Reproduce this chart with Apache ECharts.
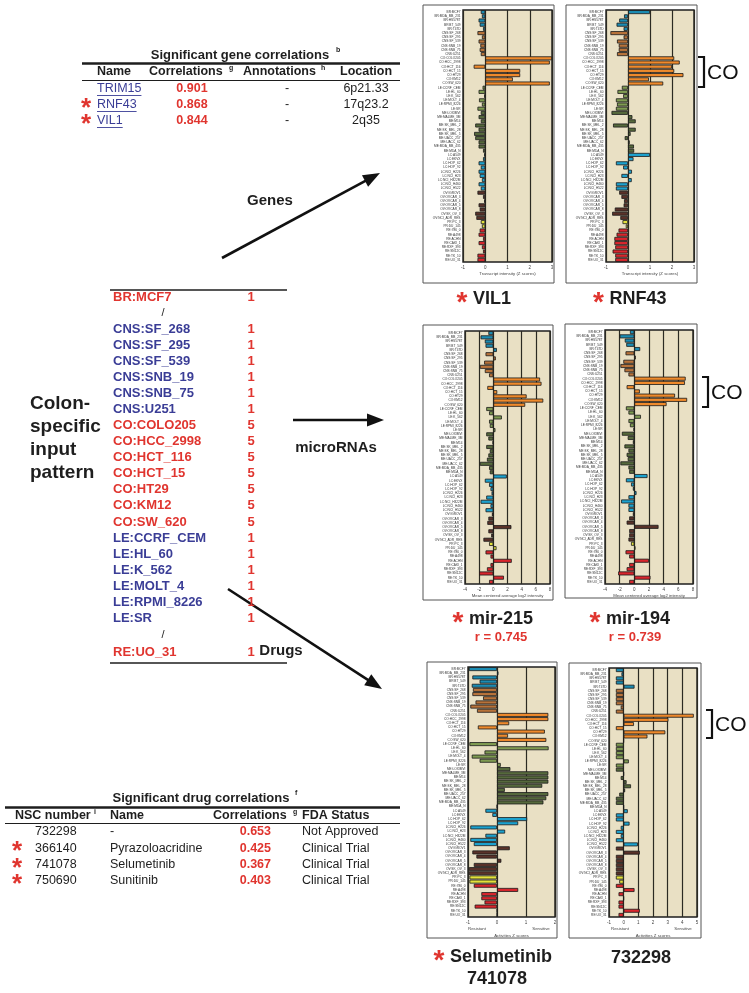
<!DOCTYPE html>
<html><head><meta charset="utf-8">
<script src="https://cdn.jsdelivr.net/npm/echarts@6/dist/echarts.min.js"></script>
<style>html,body{margin:0;padding:0;background:#fff}#c{width:749px;height:993px}</style>
</head><body><div id="c"></div>
<script>
// ---------------- DATA ----------------
const cellLines = ['BR:MCF7','BR:MDA_MB_231','BR:HS578T','BR:BT_549','BR:T47D',
 'CNS:SF_268','CNS:SF_295','CNS:SF_539','CNS:SNB_19','CNS:SNB_75','CNS:U251',
 'CO:COLO205','CO:HCC_2998','CO:HCT_116','CO:HCT_15','CO:HT29','CO:KM12','CO:SW_620',
 'LE:CCRF_CEM','LE:HL_60','LE:K_562','LE:MOLT_4','LE:RPMI_8226','LE:SR',
 'ME:LOXIMVI','ME:MALME_3M','ME:M14','ME:SK_MEL_2','ME:SK_MEL_28','ME:SK_MEL_5','ME:UACC_257','ME:UACC_62','ME:MDA_MB_435','ME:MDA_N',
 'LC:A549','LC:EKVX','LC:HOP_62','LC:HOP_92','LC:NCI_H226','LC:NCI_H23','LC:NCI_H322M','LC:NCI_H460','LC:NCI_H522',
 'OV:IGROV1','OV:OVCAR_3','OV:OVCAR_4','OV:OVCAR_5','OV:OVCAR_8','OV:SK_OV_3','OV:NCI_ADR_RES',
 'PR:PC_3','PR:DU_145',
 'RE:786_0','RE:A498','RE:ACHN','RE:CAKI_1','RE:RXF_393','RE:SN12C','RE:TK_10','RE:UO_31'];

const vil1 = [-0.2,-0.15,-0.3,-0.25,-0.1, -0.35,-0.15,-0.3,-0.22,-0.25,-0.2, 3.0,2.9,-0.52,1.57,1.57,1.24,2.9,
 -0.12,-0.3,-0.05,-0.28,-0.15,-0.35, -0.2,-0.3,-0.2,-0.45,-0.3,-0.5,-0.45,-0.3,-0.3,-0.1,
 -0.05,-0.1,-0.3,-0.2,-0.3,-0.25,-0.15,-0.3,-0.2, -0.35,-0.1,-0.05,-0.3,-0.25,-0.45,-0.4,
 -0.2,-0.15, -0.25,-0.3,-0.1,-0.3,-0.15,-0.1,-0.35,-0.35];
const rnf43 = [1.0,-0.18,-0.4,-0.52,-0.2, -0.8,-0.2,-0.5,-0.42,-0.42,-0.5, 2.1,2.35,2.0,2.1,2.52,0.95,1.6,
 -0.28,-0.48,-0.22,-0.55,-0.5,-0.55, -0.75,0.2,0.35,-0.68,0.35,0.12,-0.15,0.08,0.27,0.28,
 1.0,0.25,-0.55,-0.22,0.18,-0.3,0.17,-0.55,-0.55, -0.4,-0.3,-0.18,-0.2,-0.6,-0.72,-0.35,
 -0.25,-0.1, -0.43,-0.52,-0.62,-0.62,-0.58,-0.7,-0.58,-0.58];
const mir215 = [-0.7,-1.8,-1.2,-1.1,0.5, -1.1,0.35,-1.3,-1.9,-1.2,-0.6, 6.6,6.8,-0.85,0.55,4.7,7.05,4.5,
 -1.0,-0.6,1.2,-0.6,-0.5,0.3, -1.0,-0.7,-0.1,-1.0,-0.5,-0.7,-0.9,-1.9,-0.6,-0.5,
 1.9,-1.2,-0.6,-0.4,-0.25,-1.0,-1.8,-0.4,-1.1, -0.2,-0.7,-0.85,2.55,-0.7,-0.3,-1.4,
 -0.6,0.45, -1.1,-0.4,2.6,-0.4,-0.9,-2.0,1.5,-0.6];
const mir194 = [-0.6,-2.0,-1.3,-1.1,0.8, -1.2,0.2,-1.5,-1.9,-1.35,-0.8, 7.0,6.9,-1.05,0.75,5.55,7.2,4.4,
 -1.15,-0.8,0.9,-0.8,-0.6,-0.1, -1.7,-0.9,-0.2,-1.35,-0.8,-1.05,-0.9,-1.9,-0.8,-0.7,
 1.8,-1.15,-0.45,-0.2,0.3,-0.8,-1.8,-0.8,-0.8, -0.2,-0.7,-1.05,3.3,-0.7,-0.7,-0.8,
 -0.45,0.15, -1.2,-0.7,2.0,-0.7,-1.05,-2.2,2.2,-0.7];
const selumetinib = [-0.97,0.05,-0.85,-0.6,-0.87, -0.83,-0.85,-0.48,-0.74,-0.92,-0.69, 1.77,1.77,0.42,-0.66,1.65,0.38,1.7,
 -0.95,1.78,-0.43,-0.87,-0.6,0.13, 0.46,1.77,1.77,1.77,1.56,0.27,1.77,1.7,1.6,0,
 -0.4,-0.16,1.04,0.73,-0.92,0.28,-0.4,-0.92,-0.8, 0.44,-0.85,-0.71,0.15,-0.8,-0.97,-0.97,
 -0.95,-0.95, -0.8,0.73,-0.54,-0.54,-0.43,-0.77,0,0];
const nsc732298 = [-0.53,-0.15,-0.53,-0.53,0.74, -0.53,-0.53,-0.53,-0.53,-0.2,-0.53, 4.78,3.05,0.7,-0.53,2.84,1.62,0,
 -0.53,-0.53,-0.53,-0.53,0.35,-0.53, -0.53,0,-0.2,0.2,0.5,0.1,-0.3,-0.53,-0.53,0,
 0.28,-0.53,-0.53,0.4,-0.2,-0.53,-0.2,-0.53,0.97, -0.53,1.1,-0.53,-0.53,-0.53,-0.53,-0.53,
 -0.53,-0.3, -0.53,0.74,-0.35,0,-0.35,-0.35,1.1,-0.35];

const geneNames = ['TRIM15','RNF43','VIL1'];
const geneCorr = ['0.901','0.868','0.844'];
const geneAnnot = ['-','-','-'];
const geneLoc = ['6p21.33','17q23.2','2q35'];
const geneStar = [false,true,true];

const drugNsc = ['732298','366140','741078','750690'];
const drugName = ['-','Pyrazoloacridine','Selumetinib','Sunitinib'];
const drugCorr = ['0.653','0.425','0.367','0.403'];
const drugFda = ['Not Approved','Clinical Trial','Clinical Trial','Clinical Trial'];
const drugStar = [false,true,true,true];

const patternLabels = ['BR:MCF7','CNS:SF_268','CNS:SF_295','CNS:SF_539','CNS:SNB_19','CNS:SNB_75','CNS:U251',
 'CO:COLO205','CO:HCC_2998','CO:HCT_116','CO:HCT_15','CO:HT29','CO:KM12','CO:SW_620',
 'LE:CCRF_CEM','LE:HL_60','LE:K_562','LE:MOLT_4','LE:RPMI_8226','LE:SR','RE:UO_31'];
const patternValues = [1,1,1,1,1,1,1,5,5,5,5,5,5,5,1,1,1,1,1,1,1];

// ---------------- STYLE / LAYOUT ----------------
const FF = '"Liberation Sans", Arial, Helvetica, sans-serif';
const RED = '#e0352f', BLUE = '#3a3d96', DARK = '#1e1e1e';
const tissueColor = {BR:'#1b8cb3', CNS:'#b8733a', CO:'#ef8a2c', LE:'#7f9b52', ME:'#56693c',
  LC:'#1ca2cf', OV:'#5a3229', PR:'#e3e23b', RE:'#d9262d'};

const panels = [
  {data: vil1, grid:{left:463, top:10, width:89, height:252}, min:-1, max:3, interval:1, name:'Transcript intensity (Z scores)', frame:[423,5,131,278]},
  {data: rnf43, grid:{left:606, top:10, width:88, height:252}, min:-1, max:3, interval:1, name:'Transcript intensity (Z scores)', frame:[566,5,131,278]},
  {data: mir215, grid:{left:465, top:331, width:85, height:253}, min:-4, max:8, interval:2, name:'Mean centered average log2 intensity', frame:[423,325,130,275]},
  {data: mir194, grid:{left:605, top:330, width:88, height:254}, min:-4, max:8, interval:2, name:'Mean centered average log2 intensity', frame:[565,324,132,274]},
  {data: selumetinib, grid:{left:468, top:667, width:87, height:250}, min:-1, max:2, interval:1, name:'Activities Z scores', frame:[427,662,130,276]},
  {data: nsc732298, grid:{left:609, top:668, width:88, height:249}, min:-1, max:5, interval:1, name:'Activities Z scores', frame:[569,663,132,275]}
];

const grids=[], xAxes=[], yAxes=[], series=[];
panels.forEach((p,i)=>{
  grids.push(Object.assign({show:true, backgroundColor:'#e9e0c4', borderColor:DARK, borderWidth:1.4}, p.grid));
  xAxes.push({gridIndex:i, type:'value', min:p.min, max:p.max, interval:p.interval,
    axisLine:{show:false}, axisTick:{show:false},
    splitLine:{show:true, lineStyle:{color:'#2b2a22', width:1.2}},
    axisLabel:{fontSize:4.5, color:'#444', margin:3, fontFamily:FF},
    name:p.name, nameLocation:'middle', nameGap: i>=4 ? 17 : 10,
    nameTextStyle:{fontSize:4.3, color:'#444', fontFamily:FF}});
  yAxes.push({gridIndex:i, type:'category', data:cellLines, inverse:true,
    axisLine:{show:false}, axisTick:{show:false}, splitLine:{show:false},
    axisLabel:{interval:0, fontSize:3.2, color:'#333', margin:2.5, fontFamily:FF}});
  series.push({type:'bar', xAxisIndex:i, yAxisIndex:i, barWidth:'94%', silent:true,
    itemStyle:{borderColor:'#1a1a1a', borderWidth:0.8},
    data:p.data.map((v,j)=>({value:v, itemStyle:{color:tissueColor[cellLines[j].split(':')[0]]}}))});
});

// ---------------- GRAPHIC HELPERS ----------------
const G = [];
function T(x,y,text,font,fill,align,valign){
  G.push({type:'text', x:x, y:y, silent:true, z:10,
    style:{text:text, font:font, fill:fill||DARK, textAlign:align||'left', textVerticalAlign:valign||'middle'}});
}
function L(x1,y1,x2,y2,w,c){
  G.push({type:'line', silent:true, z:10, shape:{x1:x1,y1:y1,x2:x2,y2:y2}, style:{stroke:c||DARK, lineWidth:w||1}});
}
function arrow(x1,y1,x2,y2){
  const dx=x2-x1, dy=y2-y1, len=Math.hypot(dx,dy), ux=dx/len, uy=dy/len, hl=17, hw=6.5;
  const bx=x2-ux*hl, by=y2-uy*hl;
  L(x1,y1,bx+ux*2,by+uy*2,2.6,'#111');
  G.push({type:'polygon', silent:true, z:10, shape:{points:[[x2,y2],[bx-uy*hw,by+ux*hw],[bx+uy*hw,by-ux*hw]]}, style:{fill:'#111'}});
}
const mctx = document.createElement('canvas').getContext('2d');
function tw(text,font){ mctx.font=font; return mctx.measureText(text).width; }
function star(x,y,size){ T(x,y,'*','bold '+(size||26)+'px '+FF,RED,'center','middle'); }

// panel frames
panels.forEach(p=>{
  G.push({type:'rect', silent:true, z:0, shape:{x:p.frame[0],y:p.frame[1],width:p.frame[2],height:p.frame[3]},
    style:{fill:'none', stroke:'#555', lineWidth:1}});
});
// Resistant / Sensitive
T(477,929,'Resistant','4.3px '+FF,'#444','center');
T(541,929,'Sensitive','4.3px '+FF,'#444','center');
T(620,929,'Resistant','4.3px '+FF,'#444','center');
T(683,929,'Sensitive','4.3px '+FF,'#444','center');

// panel titles
const titleFont = 'bold 18px '+FF;
function panelTitle(cx,y,name,hasStar){
  const w = tw(name,titleFont);
  if(hasStar){ const sx = cx - (w+16)/2; star(sx+5,y+4,28); T(sx+16,y,name,titleFont,DARK,'left'); }
  else T(cx,y,name,titleFont,DARK,'center');
}
panelTitle(484,299,'VIL1',true);
panelTitle(630,299,'RNF43',true);
panelTitle(493,619,'mir-215',true);
panelTitle(630,619,'mir-194',true);
T(501,637,'r = 0.745','bold 13px '+FF,RED,'center');
T(635,637,'r = 0.739','bold 13px '+FF,RED,'center');
panelTitle(493,957,'Selumetinib',true);
T(497,979,'741078',titleFont,DARK,'center');
panelTitle(641,958,'732298',false);

// CO brackets
function coBracket(x,y1,y2){
  G.push({type:'polyline', silent:true, z:10, shape:{points:[[x,y1],[x+6,y1],[x+6,y2],[x,y2]]}, style:{stroke:'#111', lineWidth:2.2, fill:'none'}});
  T(x+9,(y1+y2)/2+1,'CO','21px '+FF,'#111','left');
}
coBracket(698,57,87);
coBracket(702,377,407);
coBracket(706,710,738);

// gene table
T(240,55,'Significant gene correlations','bold 13px '+FF,DARK,'center');
T(336,50,'b','bold 7px '+FF,DARK,'left');
L(82,63.5,400,63.5,2.5);
const hf = 'bold 12.5px '+FF;
T(97,72,'Name',hf); T(149,72,'Correlations',hf); T(229,68,'g','bold 7px '+FF);
T(243,72,'Annotations',hf); T(321,68,'h','bold 7px '+FF); T(340,72,'Location',hf);
L(82,80.5,400,80.5,1.2);
const rf = '12.5px '+FF;
geneNames.forEach((n,i)=>{
  const y = 89 + i*16;
  if(geneStar[i]) star(86,y+4,26);
  T(97,y,n,rf,BLUE); L(97,y+6.5,97+tw(n,rf),y+6.5,0.9,BLUE);
  T(192,y,geneCorr[i],'bold 12.5px '+FF,RED,'center');
  T(287,y,geneAnnot[i],rf,DARK,'center');
  T(366,y,geneLoc[i],rf,DARK,'center');
});

// arrows and labels
arrow(222,258,380,173);
T(270,201,'Genes','bold 15px '+FF,DARK,'center');
arrow(293,420,384,420);
T(336,448,'microRNAs','bold 15px '+FF,DARK,'center');
arrow(228,589,382,689);
T(281,651,'Drugs','bold 15px '+FF,DARK,'center');

// input pattern
['Colon-','specific','input','pattern'].forEach((s,i)=>T(30,404+i*23,s,'bold 19px '+FF,DARK,'left'));
L(110,290,287,290,1.5);
L(110,663,287,663,1.5);
const pf = 'bold 13px '+FF;
const step = 16.08;
patternLabels.forEach((lab,i)=>{
  let y;
  if(i===0) y = 297;
  else if(i===patternLabels.length-1) y = 652;
  else y = 329 + (i-1)*step;
  const tis = lab.split(':')[0];
  const col = (tis==='CNS'||tis==='LE') ? BLUE : RED;
  T(113,y,lab,pf,col,'left');
  T(251,y,String(patternValues[i]),pf,RED,'center');
});
T(163,313,'/','11px '+FF,DARK,'center');
T(163,635,'/','11px '+FF,DARK,'center');

// drug table
T(201,798,'Significant drug correlations','bold 13px '+FF,DARK,'center');
T(295,793,'f','bold 7px '+FF);
L(5,807.5,400,807.5,2.5);
T(15,816,'NSC number',hf); T(94,812,'i','bold 7px '+FF);
T(110,816,'Name',hf); T(213,816,'Correlations',hf); T(293,812,'g','bold 7px '+FF);
T(302,816,'FDA Status',hf);
L(5,823.5,400,823.5,1);
drugNsc.forEach((n,i)=>{
  const y = 832 + i*16.3;
  if(drugStar[i]) star(17,y+4,26);
  T(35,y,n,rf); T(110,y,drugName[i],rf);
  T(271,y,drugCorr[i],'bold 12.5px '+FF,RED,'right');
  T(302,y,drugFda[i],rf);
});

// ---------------- CHART ----------------
const chart = echarts.init(document.getElementById('c'), null, {renderer:'canvas'});
chart.setOption({
  animation:false,
  backgroundColor:'#ffffff',
  textStyle:{fontFamily:FF},
  grid:grids, xAxis:xAxes, yAxis:yAxes, series:series,
  graphic:{elements:G}
});
</script></body></html>
